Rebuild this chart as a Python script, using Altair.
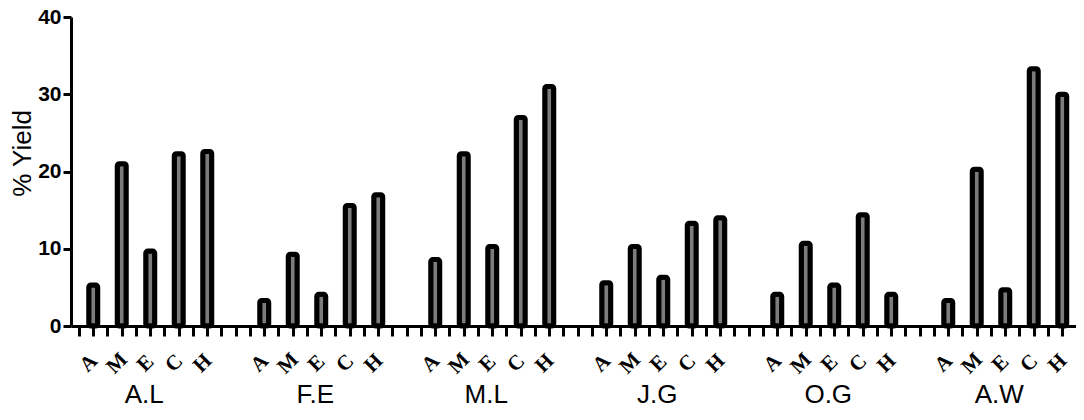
import altair as alt
import pandas as pd

groups = ["A.L", "F.E", "M.L", "J.G", "O.G", "A.W"]
extracts = ["A", "M", "E", "C", "H"]
yield_AL = [5.3, 21.0, 9.7, 22.3, 22.6]
yield_FE = [3.3, 9.3, 4.1, 15.6, 17.0]
yield_ML = [8.6, 22.3, 10.3, 27.0, 31.0]
yield_JG = [5.6, 10.3, 6.3, 13.3, 14.0]
yield_OG = [4.1, 10.7, 5.3, 14.4, 4.1]
yield_AW = [3.3, 20.3, 4.7, 33.3, 30.0]
y_ticks = [0, 10, 20, 30, 40]

series = [yield_AL, yield_FE, yield_ML, yield_JG, yield_OG, yield_AW]
SLOTS_PER_GROUP = 12

rows = []
for g, (grp, vals) in enumerate(zip(groups, series)):
    for k, (ext, v) in enumerate(zip(extracts, vals)):
        rows.append({"group": grp, "extract": ext,
                     "slot": g * SLOTS_PER_GROUP + 2 * k + 1, "yield": v})
bars_df = pd.DataFrame(rows)

labels_df = pd.DataFrame({
    "group": groups,
    "slot": [g * SLOTS_PER_GROUP + 5 for g in range(len(groups))],
})

slot_letters = ["", "A", "", "M", "", "E", "", "C", "", "H", "", ""]
label_expr = "[" + ",".join("'%s'" % s for s in slot_letters) + "][datum.value % 12]"
x_ticks = list(range(0, 70))

x_scale = alt.Scale(domain=[-0.561, 69.965], nice=False, zero=False, padding=0)

x_axis = alt.Axis(values=x_ticks, labelExpr=label_expr,
                  title=None, grid=False, domainWidth=3, domainColor="black",
                  tickWidth=3, tickSize=10, tickColor="black",
                  labelAngle=-45, labelAlign="center", labelBaseline="middle",
                  labelPadding=27, labelOffset=-5,
                  labelFont="Liberation Serif", labelFontWeight="bold",
                  labelFontSize=21, labelColor="black",
                  labelOverlap=False, labelFlush=False, labelBound=False)

bars = alt.Chart(bars_df).mark_bar(
    width=9, fill="#7c7c7c", stroke="black", strokeWidth=5, cornerRadius=2
).encode(
    x=alt.X("slot:Q", scale=x_scale, axis=x_axis),
    y=alt.Y("yield:Q", scale=alt.Scale(domain=[0, 40], nice=False),
            axis=alt.Axis(values=y_ticks, title="% Yield", grid=False,
                          domainWidth=3, domainColor="black",
                          tickWidth=3, tickSize=8, tickColor="black",
                          labelFont="Liberation Sans", labelFontWeight="bold",
                          labelFontSize=21, labelColor="black", labelPadding=2,
                          labelFlush=False,
                          titleFont="Liberation Sans", titleFontWeight="normal",
                          titleFontSize=26, titleColor="black",
                          titleX=-49, titleY=136, titleAngle=270,
                          titleAlign="center", titleBaseline="middle")),
)

group_text = alt.Chart(labels_df).mark_text(
    font="Liberation Sans", fontSize=26, color="black", baseline="alphabetic",
    align="center", dx=-6
).encode(
    x=alt.X("slot:Q", scale=x_scale, axis=x_axis),
    y=alt.value(386),
    text="group:N",
)

chart = alt.layer(bars, group_text).properties(
    width=1005, height=309,
    background="white",
    autosize=alt.AutoSizeParams(type="none"),
    padding={"left": 63, "top": 9, "right": 0, "bottom": 82},
).configure_view(stroke=None)

chart.save("out.html", embed_options={"renderer": "svg", "actions": False})
